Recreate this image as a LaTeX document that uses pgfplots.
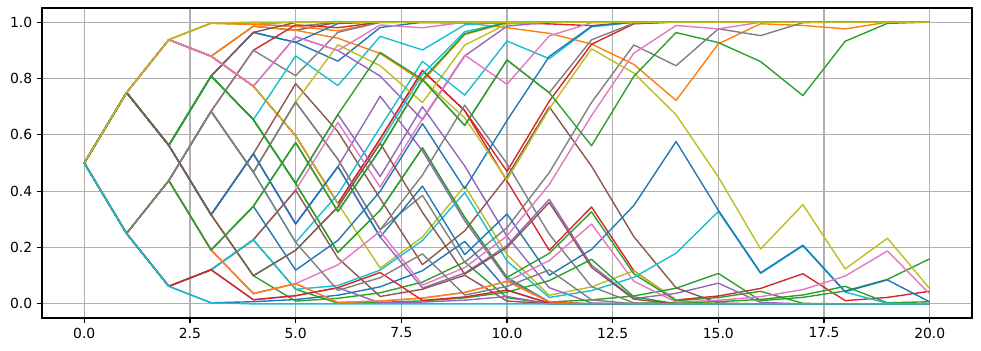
\documentclass[border=0pt]{standalone}
\usepackage{fontspec}
\setmainfont{DejaVu Sans}
\usepackage{pgfplots}
\pgfplotsset{compat=1.18}
\definecolor{tabblue}{HTML}{1F77B4}
\definecolor{taborange}{HTML}{FF7F0E}
\definecolor{tabgreen}{HTML}{2CA02C}
\definecolor{tabred}{HTML}{D62728}
\definecolor{tabpurple}{HTML}{9467BD}
\definecolor{tabbrown}{HTML}{8C564B}
\definecolor{tabpink}{HTML}{E377C2}
\definecolor{tabgray}{HTML}{7F7F7F}
\definecolor{tabolive}{HTML}{BCBD22}
\definecolor{tabcyan}{HTML}{17BECF}
\definecolor{gridgray}{HTML}{B0B0B0}
\newcommand{\pl}[2]{\addplot[color=#1, line width=1pt, line join=round] coordinates {#2};}
\begin{document}
\begin{tikzpicture}
\begin{axis}[name=ax, scale only axis, width=669.6pt, height=223.2pt,
  xmin=-1, xmax=21, ymin=-0.05, ymax=1.05,
  xtick={0,2.5,5,7.5,10,12.5,15,17.5,20},
  ytick={0,0.2,0.4,0.6,0.8,1},
  /pgf/number format/assume math mode=true,
  xticklabel style={/pgf/number format/.cd, fixed, fixed zerofill, precision=1},
  yticklabel style={/pgf/number format/.cd, fixed, fixed zerofill, precision=1},
  tick label style={font=\fontsize{10}{12}\selectfont},
  grid=major, major grid style={color=gridgray, line width=0.8pt},
  tick align=outside, tick pos=left, major tick length=3.5pt,
  tick style={black, line width=0.8pt},
  axis line style={line width=0.8pt},
]
\pl{tabgray}{(0,.5)(1,.75)(2,.9375)(3,.9961)(4,.9922)(5,.9845)(6,.9999)(7,1)(20,1)}
\pl{tabbrown}{(0,.5)(1,.75)(2,.9375)(3,.8789)(4,.9853)(5,.9709)(6,.9992)(7,1)(20,1)}
\pl{taborange}{(0,.5)(1,.75)(2,.9375)(3,.9961)(4,.9922)(5,1)(20,1)}
\pl{taborange}{(0,.5)(1,.75)(2,.9375)(3,.9961)(4,.9922)(5,.9845)(6,.9692)(7,.9991)(8,.9982)(9,.9964)(10,.98)(11,.96)(12,.922)(13,.850)(14,.722)(15,.923)(16,.994)(17,.988)(18,.976)(19,.9994)(20,1)}
\pl{taborange}{(0,.5)(1,.75)(2,.9375)(3,.8789)(4,.9853)(5,.9709)(6,.9427)(7,.8886)(8,.7896)(9,.9557)(10,.9980)(11,1)(20,1)}
\pl{tabblue}{(0,.5)(1,.75)(2,.5625)(3,.8086)(4,.9634)(5,.9281)(6,.8614)(7,.9808)(8,.9996)(9,1)(20,1)}
\pl{tabblue}{(0,.5)(1,.75)(2,.5625)(3,.8086)(4,.9634)(5,.9281)(6,.9948)(7,1)(20,1)}
\pl{tabbrown}{(0,.5)(1,.75)(2,.5625)(3,.8086)(4,.9634)(5,.9987)(6,1)(20,1)}
\pl{tabred}{(0,.5)(1,.25)(2,.4375)(3,.6836)(4,.8999)(5,.9900)(6,.9801)(7,.9996)(8,.9992)(9,.9984)(10,.9968)(11,.9936)(12,.9873)(13,.9998)(14,1)(20,1)}
\pl{tabgray}{(0,.5)(1,.25)(2,.4375)(3,.6836)(4,.8999)(5,.8098)(6,.9638)(7,.9987)(8,1)(20,1)}
\pl{tabcyan}{(0,.5)(1,.75)(2,.5625)(3,.8086)(4,.6538)(5,.8802)(6,.7747)(7,.9493)(8,.9012)(9,.9902)(10,.9999)(11,1)(20,1)}
\pl{tabpurple}{(0,.5)(1,.75)(2,.9375)(3,.8789)(4,.7725)(5,.9482)(6,.8991)(7,.8084)(8,.6535)(9,.8800)(10,.9856)(11,.9998)(12,1)(20,1)}
\pl{tabred}{(0,.5)(1,.75)(2,.9375)(3,.8789)(4,.7725)(5,.5967)(6,.3561)(7,.5854)(8,.8281)(9,.6857)(10,.4702)(11,.7193)(12,.9212)(13,.9938)(14,1)(20,1)}
\pl{tabred}{(0,.5)(1,.75)(2,.9375)(3,.8789)(4,.7725)(5,.5967)(6,.3561)(7,.5854)(8,.8281)(9,.6857)(10,.436)(11,.190)(12,.344)(13,.118)(14,.014)(15,.028)(16,.055)(17,.107)(18,.0115)(19,.023)(20,.045)}
\pl{tabolive}{(0,.5)(1,.75)(2,.9375)(3,.8789)(4,.7725)(5,.5967)(6,.3561)(7,.1268)(8,.2375)(9,.4186)(10,.1752)(11,.0307)(12,.0605)(13,.1173)(14,.0138)(15,.0002)(16,0)(20,0)}
\pl{tabpurple}{(0,.5)(1,.75)(2,.5625)(3,.8086)(4,.6538)(5,.4275)(6,.6722)(7,.4519)(8,.6996)(9,.4894)(10,.2395)(11,.0574)(12,.0033)(13,0)(20,0)}
\pl{tabgreen}{(0,.5)(1,.75)(2,.5625)(3,.8086)(4,.6538)(5,.4275)(6,.1827)(7,.3320)(8,.5538)(9,.3067)(10,.0941)(11,.1794)(12,.3266)(13,.1067)(14,.0114)(15,.0226)(16,.0447)(17,.0020)(18,0)(20,0)}
\pl{tabgreen}{(0,.5)(1,.75)(2,.5625)(3,.8086)(4,.6538)(5,.4275)(6,.1827)(7,.3320)(8,.5538)(9,.3067)(10,.0941)(11,.0071)(12,.0142)(13,.0282)(14,.0556)(15,.1081)(16,.0117)(17,.0232)(18,.0459)(19,.0870)(20,.16)}
\pl{tabpurple}{(0,.5)(1,.75)(2,.5625)(3,.3164)(4,.5327)(5,.2838)(6,.4870)(7,.7368)(8,.5429)(9,.2947)(10,.0869)(11,.0075)(12,.0001)(13,0)(20,0)}
\pl{tabpurple}{(0,.5)(1,.75)(2,.5625)(3,.3164)(4,.5327)(5,.2838)(6,.4870)(7,.2372)(8,.0563)(9,.1094)(10,.2069)(11,.3710)(12,.1376)(13,.0189)(14,.0375)(15,.0736)(16,.0054)(17,0)(20,0)}
\pl{tabbrown}{(0,.5)(1,.75)(2,.5625)(3,.3164)(4,.5327)(5,.7816)(6,.6110)(7,.3733)(8,.1394)(9,.2593)(10,.4514)(11,.6990)(12,.4886)(13,.2387)(14,.0570)(15,.0032)(16,0)(20,0)}
\pl{tabcyan}{(0,.5)(1,.75)(2,.5625)(3,.3164)(4,.1001)(5,.1902)(6,.3442)(7,.5699)(8,.8150)(9,.9658)(10,.9988)(11,1)(20,1)}
\pl{tabgreen}{(0,.5)(1,.75)(2,.5625)(3,.3164)(4,.1001)(5,.0100)(6,.0199)(7,.0394)(8,.0773)(9,.1486)(10,.0221)(11,.0005)(12,.0010)(13,.0020)(14,.0040)(15,.0080)(16,.0159)(17,.0316)(18,.0622)(19,.0039)(20,.0077)}
\pl{tabolive}{(0,.5)(1,.25)(2,.4375)(3,.6836)(4,.4673)(5,.7162)(6,.9194)(7,.8453)(8,.7145)(9,.9185)(10,.9934)(11,1)(20,1)}
\pl{tabcyan}{(0,.5)(1,.25)(2,.4375)(3,.6836)(4,.4673)(5,.2184)(6,.3890)(7,.6267)(8,.8606)(9,.7406)(10,.9327)(11,.8700)(12,.9831)(13,.9997)(14,1)(20,1)}
\pl{tabgray}{(0,.5)(1,.25)(2,.4375)(3,.6836)(4,.4673)(5,.7162)(6,.5130)(7,.2632)(8,.4570)(9,.7052)(10,.4973)(11,.2473)(12,.0612)(13,.0037)(14,0)(20,0)}
\pl{tabgray}{(0,.5)(1,.25)(2,.4375)(3,.6836)(4,.4673)(5,.7162)(6,.5130)(7,.2632)(8,.385)(9,.148)(10,.27)(11,.466)(12,.715)(13,.919)(14,.845)(15,.976)(16,.952)(17,.998)(18,1)(20,1)}
\pl{tabpink}{(0,.5)(1,.25)(2,.0625)(3,.1211)(4,.2275)(5,.4033)(6,.6439)(7,.4146)(8,.6575)(9,.8827)(10,.7792)(11,.9512)(12,.9976)(13,1)(20,1)}
\pl{tabbrown}{(0,.5)(1,.25)(2,.0625)(3,.1211)(4,.2275)(5,.4033)(6,.1626)(7,.0264)(8,.0521)(9,.1015)(10,.0103)(11,.0001)(12,0)(20,0)}
\pl{tabgreen}{(0,.5)(1,.25)(2,.0625)(3,.1211)(4,.2275)(5,.0518)(6,.0027)(7,.0054)(8,.0107)(9,.0213)(10,.0421)(11,.0825)(12,.1582)(13,.0250)(14,.0006)(15,0)(20,0)}
\pl{tabcyan}{(0,.5)(1,.25)(2,.0625)(3,.1211)(4,.2275)(5,.0518)(6,.065)(7,.12)(8,.225)(9,.395)(10,.152)(11,.023)(12,.047)(13,.094)(14,.180)(15,.328)(16,.108)(17,.206)(18,.042)(19,.002)(20,0)}
\pl{tabblue}{(0,.5)(1,.75)(2,.5625)(3,.3164)(4,.5327)(5,.2838)(6,.4870)(7,.2372)(8,.4181)(9,.1748)(10,.3190)(11,.1018)(12,.1932)(13,.3491)(14,.5763)(15,.3321)(16,.1103)(17,.2084)(18,.0434)(19,.0850)(20,.0072)}
\pl{tabpurple}{(0,.5)(1,.25)(2,.0625)(3,.1211)(4,.0147)(5,.0291)(6,.0574)(7,.0033)(8,.0066)(9,.0132)(10,.0262)(11,.0007)(12,0)(20,0)}
\pl{tabblue}{(0,.5)(1,.25)(2,.0625)(3,.0039)(4,.0078)(5,.0155)(6,.0308)(7,.0607)(8,.1177)(9,.2215)(10,.0491)(11,.0024)(12,0)(20,0)}
\pl{tabblue}{(0,.5)(1,.25)(2,.4375)(3,.1914)(4,.3462)(5,.1198)(6,.2253)(7,.3997)(8,.6396)(9,.4091)(10,.6508)(11,.8781)(12,.9851)(13,.9998)(14,1)(20,1)}
\pl{tabpink}{(0,.5)(1,.25)(2,.4375)(3,.1914)(4,.0366)(5,.0719)(6,.1386)(7,.2580)(8,.0666)(9,.1288)(10,.2410)(11,.4239)(12,.6681)(13,.8898)(14,.9879)(15,.9759)(16,.9994)(17,1)(20,1)}
\pl{tabpink}{(0,.5)(1,.25)(2,.4375)(3,.1914)(4,.0366)(5,.0719)(6,.0052)(7,.0103)(8,.0206)(9,.0408)(10,.0800)(11,.1536)(12,.2836)(13,.0804)(14,.0065)(15,.0129)(16,.0257)(17,.0507)(18,.0988)(19,.1878)(20,.0353)}
\pl{taborange}{(0,.5)(1,.25)(2,.4375)(3,.1914)(4,.0366)(5,.0719)(6,.0052)(7,.0103)(8,.0206)(9,.0408)(10,.0800)(11,.0064)(12,0)(20,0)}
\pl{tabolive}{(0,.5)(1,.25)(2,.4375)(3,.1914)(4,.3462)(5,.5725)(6,.3278)(7,.5481)(8,.7958)(9,.66)(10,.44)(11,.692)(12,.905)(13,.819)(14,.671)(15,.450)(16,.195)(17,.352)(18,.124)(19,.233)(20,.054)}
\pl{tabgray}{(0,.5)(1,.25)(2,.4375)(3,.1914)(4,.3462)(5,.5725)(6,.3278)(7,.5481)(8,.7958)(9,.6333)(10,.8655)(11,.7491)(12,.9370)(13,.9960)(14,1)(20,1)}
\pl{tabred}{(0,.5)(1,.25)(2,.0625)(3,.1211)(4,.0147)(5,.0291)(6,.0574)(7,.1115)(8,.0124)(9,.0247)(10,.0488)(11,.0024)(12,0)(20,0)}
\pl{tabpink}{(0,.5)(1,.75)(2,.9375)(3,.8789)(4,.7725)(5,.9482)(6,.8991)(7,.9898)(8,.9797)(9,.9996)(10,1)(20,1)}
\pl{tabgreen}{(0,.5)(1,.75)(2,.5625)(3,.8086)(4,.6538)(5,.4275)(6,.6722)(7,.8925)(8,.7966)(9,.9587)(10,.9983)(11,1)(20,1)}
\pl{tabbrown}{(0,.5)(1,.75)(2,.5625)(3,.3164)(4,.1001)(5,.1902)(6,.3442)(7,.5699)(8,.3248)(9,.1055)(10,.1999)(11,.3598)(12,.1295)(13,.0168)(14,.0003)(15,0)(20,0)}
\pl{tabgreen}{(0,.5)(1,.25)(2,.4375)(3,.1914)(4,.3462)(5,.5725)(6,.3278)(7,.5481)(8,.7958)(9,.6333)(10,.8655)(11,.7491)(12,.5612)(13,.8075)(14,.9629)(15,.9272)(16,.8598)(17,.7392)(18,.9320)(19,.9954)(20,1)}
\pl{tabgray}{(0,.5)(1,.25)(2,.4375)(3,.6836)(4,.4673)(5,.2184)(6,.0477)(7,.0931)(8,.1776)(9,.0315)(10,.0621)(11,.1204)(12,.0145)(13,.0002)(14,0)(20,0)}
\pl{tabolive}{(0,.5)(1,.75)(2,.9375)(3,.9961)(4,1)(20,1)}
\pl{tabcyan}{(0,.5)(1,.25)(2,.0625)(3,.0039)(4,0)(20,0)}
\end{axis}
\pgfresetboundingbox
\path[use as bounding box] ([xshift=-30.24pt,yshift=-23.76pt]ax.south west) rectangle ([xshift=6.48pt,yshift=5.76pt]ax.north east);
\end{tikzpicture}
\end{document}
